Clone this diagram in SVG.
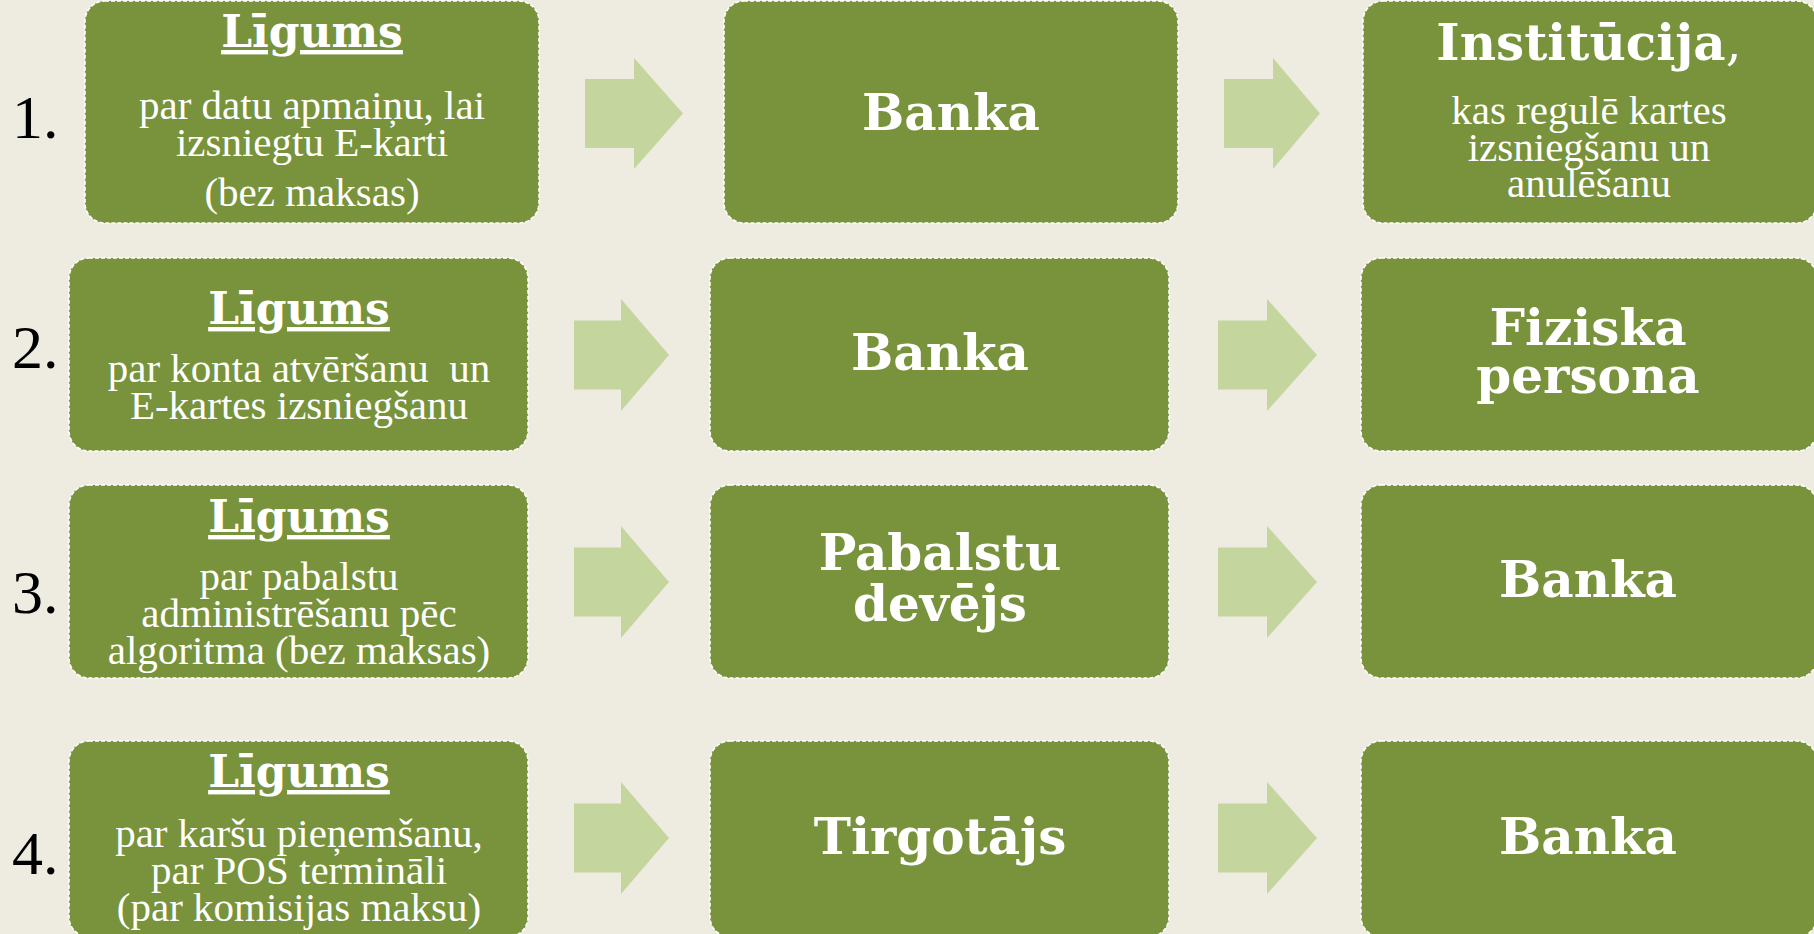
<svg xmlns="http://www.w3.org/2000/svg" width="1814" height="934" viewBox="0 0 1814 934">
<defs>
<style>
.bg{fill:#EEEBE1}
.box{fill:#78933C;stroke:#FFFFFF;stroke-width:1.6;stroke-dasharray:4 2}
.arr{fill:#C4D69E}
.num{font-family:"Liberation Serif","DejaVu Serif",serif;font-size:62px;fill:#000000}
.h{font-family:"DejaVu Serif","Liberation Serif",serif;font-weight:bold;fill:#FFFFFF;text-anchor:middle}
.lg{font-size:44px;text-decoration:underline}
.big{font-size:50px}
.t{font-family:"Liberation Serif","DejaVu Serif",serif;font-size:41px;fill:#FFFFFF;text-anchor:middle}
</style>
</defs>
<rect class="bg" x="0" y="0" width="1814" height="934"/>
<g id="numbers">
<text class="num" x="12" y="138">1.</text>
<text class="num" x="12" y="368">2.</text>
<text class="num" x="12" y="613">3.</text>
<text class="num" x="12" y="874">4.</text>
</g>
<g id="connectors">
<polygon class="arr" points="585,79 634,79 634,58 683,113.5 634,169 634,148 585,148"/>
<polygon class="arr" points="1224,79 1273,79 1273,58 1320,113.5 1273,169 1273,148 1224,148"/>
<polygon class="arr" points="574,320.5 621,320.5 621,299 669,355 621,411 621,389.5 574,389.5"/>
<polygon class="arr" points="1218,320.5 1267,320.5 1267,299 1317,355 1267,411 1267,389.5 1218,389.5"/>
<polygon class="arr" points="574,547.5 621,547.5 621,526 669,582 621,638 621,616.5 574,616.5"/>
<polygon class="arr" points="1218,547.5 1267,547.5 1267,526 1317,582 1267,638 1267,616.5 1218,616.5"/>
<polygon class="arr" points="574,803.5 621,803.5 621,782 669,838 621,894 621,872.5 574,872.5"/>
<polygon class="arr" points="1218,803.5 1267,803.5 1267,782 1317,838 1267,894 1267,872.5 1218,872.5"/>
</g>
<g id="n1a">
<rect class="box" x="85" y="1" width="454" height="222" rx="20"/>
<text class="h lg" x="312" y="47">Līgums</text>
<text class="t" x="312" y="119">par datu apmaiņu, lai</text>
<text class="t" x="312" y="156">izsniegtu E-karti</text>
<text class="t" x="312" y="206">(bez maksas)</text>
</g>
<g id="n1b">
<rect class="box" x="724" y="1" width="454" height="222" rx="20"/>
<text class="h big" x="951" y="130">Banka</text>
</g>
<g id="n1c">
<rect class="box" x="1363" y="1" width="454" height="222" rx="20"/>
<text class="h big" x="1589" y="60">Institūcija<tspan font-weight="normal">,</tspan></text>
<text class="t" x="1589" y="124">kas regulē kartes</text>
<text class="t" x="1589" y="161">izsniegšanu un</text>
<text class="t" x="1589" y="197">anulēšanu</text>
</g>
<g id="n2a">
<rect class="box" x="69" y="258" width="459" height="193" rx="20"/>
<text class="h lg" x="299" y="324">Līgums</text>
<text class="t" x="299" y="382" xml:space="preserve">par konta atvēršanu  un</text>
<text class="t" x="299" y="419">E-kartes izsniegšanu</text>
</g>
<g id="n2b">
<rect class="box" x="710" y="258" width="459" height="193" rx="20"/>
<text class="h big" x="940" y="370">Banka</text>
</g>
<g id="n2c">
<rect class="box" x="1361" y="258" width="456" height="193" rx="20"/>
<text class="h big" x="1588" y="345">Fiziska</text>
<text class="h big" x="1588" y="393">persona</text>
</g>
<g id="n3a">
<rect class="box" x="69" y="485" width="459" height="193" rx="20"/>
<text class="h lg" x="299" y="532">Līgums</text>
<text class="t" x="299" y="590">par pabalstu</text>
<text class="t" x="299" y="627">administrēšanu pēc</text>
<text class="t" x="299" y="664">algoritma (bez maksas)</text>
</g>
<g id="n3b">
<rect class="box" x="710" y="485" width="459" height="193" rx="20"/>
<text class="h big" x="940" y="570">Pabalstu</text>
<text class="h big" x="940" y="621">devējs</text>
</g>
<g id="n3c">
<rect class="box" x="1361" y="485" width="456" height="193" rx="20"/>
<text class="h big" x="1588" y="597">Banka</text>
</g>
<g id="n4a">
<rect class="box" x="69" y="741" width="459" height="196" rx="20"/>
<text class="h lg" x="299" y="787">Līgums</text>
<text class="t" x="299" y="847">par karšu pieņemšanu,</text>
<text class="t" x="299" y="884">par POS termināli</text>
<text class="t" x="299" y="921">(par komisijas maksu)</text>
</g>
<g id="n4b">
<rect class="box" x="710" y="741" width="459" height="196" rx="20"/>
<text class="h big" x="940" y="854">Tirgotājs</text>
</g>
<g id="n4c">
<rect class="box" x="1361" y="741" width="456" height="196" rx="20"/>
<text class="h big" x="1588" y="854">Banka</text>
</g>
</svg>
